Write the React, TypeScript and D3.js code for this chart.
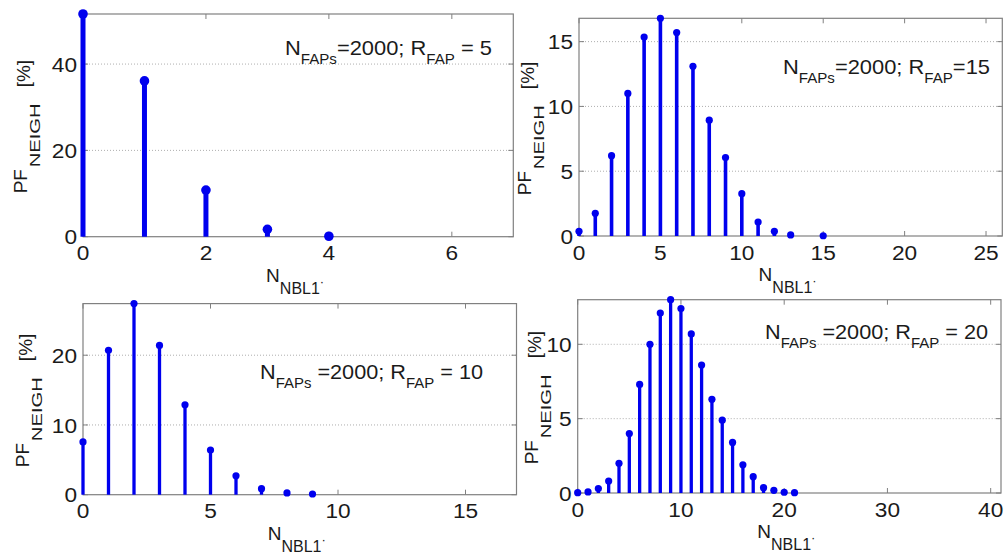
import React from "react";
import * as d3 from "d3";

// ---------- data ----------
const p1X = [0, 1, 2, 3, 4];
const p1Y = [51.6, 36.1, 10.8, 1.7, 0.1];
const p1XTicks = [0, 2, 4, 6];
const p1YTicks = [0, 20, 40];

const p2X = [0, 1, 2, 3, 4, 5, 6, 7, 8, 9, 10, 11, 12, 13, 15];
const p2Y = [0.36, 1.75, 6.2, 11.0, 15.35, 16.8, 15.7, 13.1, 8.94, 6.05, 3.27, 1.08, 0.36, 0.08, 0.02];
const p2XTicks = [0, 5, 10, 15, 20, 25];
const p2YTicks = [0, 5, 10, 15];

const p3X = [0, 1, 2, 3, 4, 5, 6, 7, 8, 9];
const p3Y = [7.56, 20.7, 27.4, 21.4, 12.9, 6.4, 2.7, 0.86, 0.25, 0.1];
const p3XTicks = [0, 5, 10, 15];
const p3YTicks = [0, 10, 20];

const p4X = [0, 1, 2, 3, 4, 5, 6, 7, 8, 9, 10, 11, 12, 13, 14, 15, 16, 17, 18, 19, 20, 21];
const p4Y = [0.02, 0.07, 0.3, 0.8, 2.0, 4.0, 7.3, 10.0, 12.1, 13.0, 12.4, 10.7, 8.6, 6.3, 4.9, 3.4, 1.9, 1.1, 0.36, 0.18, 0.05, 0.02];
const p4XTicks = [0, 10, 20, 30, 40];
const p4YTicks = [0, 5, 10];

const xMaxes = [7, 26, 17, 41];
const annFapsLabel = ["=2000; R", "=2000; R", " =2000; R", " =2000; R"];
const annRLabel = [" = 5", "=15", " = 10", " = 20"];

// ---------- layout ----------
type Panel = {
  xs: number[]; ys: number[]; xTicks: number[]; yTicks: number[]; xMax: number;
  left: number; right: number; top: number; bottom: number;
  stemW: number; r: number; ylabX: number; annX: number; annY: number; annW: number;
  fapsTxt: string; rTxt: string;
};

const panels: Panel[] = [
  { xs: p1X, ys: p1Y, xTicks: p1XTicks, yTicks: p1YTicks, xMax: xMaxes[0],
    left: 83, right: 513.3, top: 14, bottom: 236.7, stemW: 5, r: 4.8, ylabX: 27,
    annX: 492, annY: 55, annW: 207, fapsTxt: annFapsLabel[0], rTxt: annRLabel[0] },
  { xs: p2X, ys: p2Y, xTicks: p2XTicks, yTicks: p2YTicks, xMax: xMaxes[1],
    left: 579, right: 1002.3, top: 18.3, bottom: 236, stemW: 3.6, r: 3.6, ylabX: 531,
    annX: 990, annY: 74, annW: 207, fapsTxt: annFapsLabel[1], rTxt: annRLabel[1] },
  { xs: p3X, ys: p3Y, xTicks: p3XTicks, yTicks: p3YTicks, xMax: xMaxes[2],
    left: 83, right: 516.5, top: 303.6, bottom: 494.7, stemW: 3.3, r: 3.6, ylabX: 29,
    annX: 483, annY: 378.7, annW: 223, fapsTxt: annFapsLabel[2], rTxt: annRLabel[2] },
  { xs: p4X, ys: p4Y, xTicks: p4XTicks, yTicks: p4YTicks, xMax: xMaxes[3],
    left: 577.7, right: 1001, top: 299.7, bottom: 493, stemW: 3.3, r: 3.6, ylabX: 538,
    annX: 988, annY: 338.5, annW: 223, fapsTxt: annFapsLabel[3], rTxt: annRLabel[3] },
];

const BLUE = "#0000ee";
const FRAME = "#808080";
const TXT = "#1a1a1a";
const FONT = "'Liberation Sans', Arial, Helvetica, sans-serif";
const TICK_FS = 21;
const TICK_SX = 1.08;

function PanelView({ p }: { p: Panel }) {
  const x = d3.scaleLinear().domain([0, p.xMax]).range([p.left, p.right]);
  const y = d3.scaleLinear().domain([0, d3.max(p.ys) as number]).range([p.bottom, p.top]);
  const tick = 5;
  const cx = (p.left + p.right) / 2;
  const cy = (p.top + p.bottom) / 2;
  const labStart = cy + 68; // screen y where the rotated y label begins
  return (
    <g fontFamily={FONT} fill={TXT}>
      {/* grid */}
      {p.yTicks.filter((t) => t > 0).map((t) => (
        <line key={"g" + t} x1={p.left} x2={p.right} y1={y(t)} y2={y(t)}
          stroke="#999" strokeWidth={0.8} strokeDasharray="1,2" />
      ))}
      {/* frame */}
      <rect x={p.left} y={p.top} width={p.right - p.left} height={p.bottom - p.top}
        fill="none" stroke={FRAME} strokeWidth={1.2} />
      {/* ticks */}
      {p.xTicks.map((t) => (
        <g key={"xt" + t}>
          <line x1={x(t)} x2={x(t)} y1={p.bottom} y2={p.bottom - tick} stroke={FRAME} />
          <line x1={x(t)} x2={x(t)} y1={p.top} y2={p.top + tick} stroke={FRAME} />
          <text transform={`translate(${x(t)},${p.bottom + 23.5}) scale(${TICK_SX},1)`}
            textAnchor="middle" fontSize={TICK_FS}>{t}</text>
        </g>
      ))}
      {p.yTicks.map((t) => (
        <g key={"yt" + t}>
          <line x1={p.left} x2={p.left + tick} y1={y(t)} y2={y(t)} stroke={FRAME} />
          <line x1={p.right} x2={p.right - tick} y1={y(t)} y2={y(t)} stroke={FRAME} />
          <text transform={`translate(${p.left - 6},${y(t)}) scale(${TICK_SX},1)`}
            dy="0.36em" textAnchor="end" fontSize={TICK_FS}>{t}</text>
        </g>
      ))}
      {/* stems */}
      {p.xs.map((xv, i) => (
        <g key={"s" + i}>
          <line x1={x(xv)} x2={x(xv)} y1={y(0)} y2={y(p.ys[i])} stroke={BLUE} strokeWidth={p.stemW} />
          <circle cx={x(xv)} cy={y(p.ys[i])} r={p.r} fill={BLUE} />
        </g>
      ))}
      {/* x label */}
      <text x={cx - 3} y={p.bottom + 45} textAnchor="middle" fontSize={19} style={{ whiteSpace: "pre" }}>
        <tspan>N</tspan>
        <tspan fontSize={16} dy={12}>NBL1</tspan>
        <tspan fontSize={13} dy={-8}>·</tspan>
      </text>
      {/* y label (rotated) */}
      <g transform={`translate(${p.ylabX},${labStart}) rotate(-90)`}>
        <text x={0} y={0} fontSize={19}>PF</text>
        <text x={26} y={13} fontSize={15} textLength={64} lengthAdjust="spacingAndGlyphs">NEIGH</text>
        <text x={106} y={3} fontSize={19}>[%]</text>
      </g>
      {/* annotation */}
      <text x={p.annX} y={p.annY} textAnchor="end" fontSize={21} style={{ whiteSpace: "pre" }}
        textLength={p.annW} lengthAdjust="spacingAndGlyphs">
        <tspan>N</tspan>
        <tspan fontSize={14.5} dy={9}>FAPs</tspan>
        <tspan dy={-9}>{p.fapsTxt}</tspan>
        <tspan fontSize={14.5} dy={9}>FAP</tspan>
        <tspan dy={-9}>{p.rTxt}</tspan>
      </text>
    </g>
  );
}

export default function App() {
  return (
    <svg width={1005} height={557} style={{ position: "absolute", left: 0, top: 0, background: "#fff" }}>
      <rect x={0} y={0} width={1005} height={557} fill="#fff" />
      {panels.map((p, i) => <PanelView key={i} p={p} />)}
    </svg>
  );
}
